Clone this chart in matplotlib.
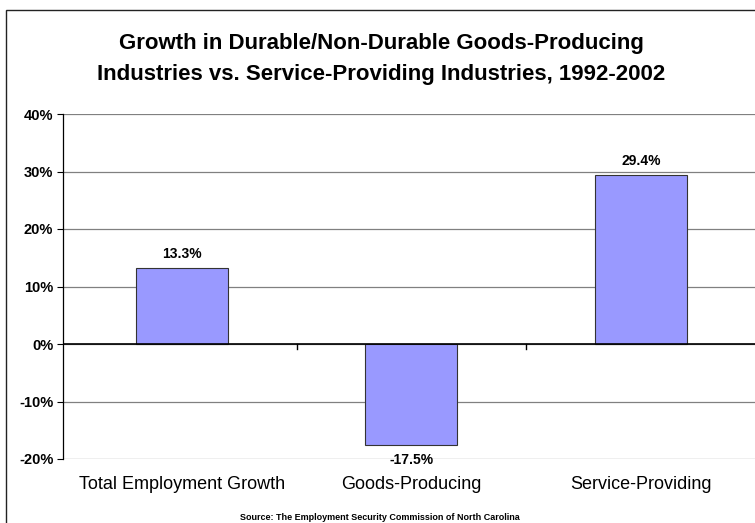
import matplotlib
matplotlib.use("Agg")
import matplotlib.pyplot as plt
from matplotlib.patches import Rectangle
from matplotlib.ticker import FuncFormatter

categories = ["Total Employment Growth", "Goods-Producing", "Service-Providing"]
growth_pct = [13.3, -17.5, 29.4]
y_ticks = [-20, -10, 0, 10, 20, 30, 40]

plt.rcParams["font.family"] = ["Liberation Sans", "DejaVu Sans"]

W, H = 755, 523
fig = plt.figure(figsize=(W / 100, H / 100), dpi=100)

# outer chart-area frame
fig.patches.append(Rectangle((6 / W, -0.05), 1.2, 1 - 10 / H + 0.05,
                             transform=fig.transFigure, fill=False,
                             edgecolor="#222222", linewidth=1.0, zorder=0))

ax = fig.add_axes([63 / W, 1 - 459 / H, (757 - 63) / W, (459 - 114) / H])

x = list(range(len(categories)))
ax.bar(x, growth_pct, width=0.4, color="#9999FF", edgecolor="#333333",
       linewidth=0.8, zorder=3)

for xi, v in zip(x, growth_pct):
    if v >= 0:
        ax.text(xi, v + 1.2, f"{v:.1f}%", ha="center", va="bottom",
                fontsize=10, fontweight="bold")
    else:
        ax.text(xi, v - 2.7, f"{v:.1f}%", ha="center", va="center",
                fontsize=10, fontweight="bold", zorder=5)

ax.set_xlim(-0.517, len(categories) - 0.5 + 0.005)
ax.set_ylim(-20, 40)
ax.set_yticks(y_ticks)
ax.yaxis.set_major_formatter(FuncFormatter(lambda v, p: f"{v:.0f}%"))
for lbl in ax.get_yticklabels():
    lbl.set_fontweight("bold")
ax.tick_params(axis="y", labelsize=10.5, length=4, width=0.8, direction="out", pad=3)

ax.grid(axis="y", color="#808080", linewidth=0.9, zorder=0)
ax.set_axisbelow(True)

for s in ["top", "right", "bottom"]:
    ax.spines[s].set_visible(False)
ax.spines["left"].set_linewidth(0.9)

# zero baseline with category separator ticks
ax.axhline(0, color="black", linewidth=1.2, zorder=4)
for b in [0.5, 1.5]:
    ax.plot([b, b], [0, -0.9], color="black", linewidth=1.0, zorder=4,
            clip_on=False)

ax.set_xticks(x)
ax.set_xticklabels([])
ax.tick_params(axis="x", length=0)
for xi, c in zip(x, categories):
    ax.text(xi, -20 - 4.4, c, ha="center", va="center", fontsize=13,
            transform=ax.transData)

fig.text(381 / W, 1 - 59 / H,
         "Growth in Durable/Non-Durable Goods-Producing\n"
         "Industries vs. Service-Providing Industries, 1992-2002",
         ha="center", va="center", fontsize=16, fontweight="bold",
         linespacing=1.65)

fig.text(380 / W, 1 - 518 / H,
         "Source: The Employment Security Commission of North Carolina",
         ha="center", va="center", fontsize=6.5, fontweight="bold")

fig.savefig("out.png", dpi=100)
